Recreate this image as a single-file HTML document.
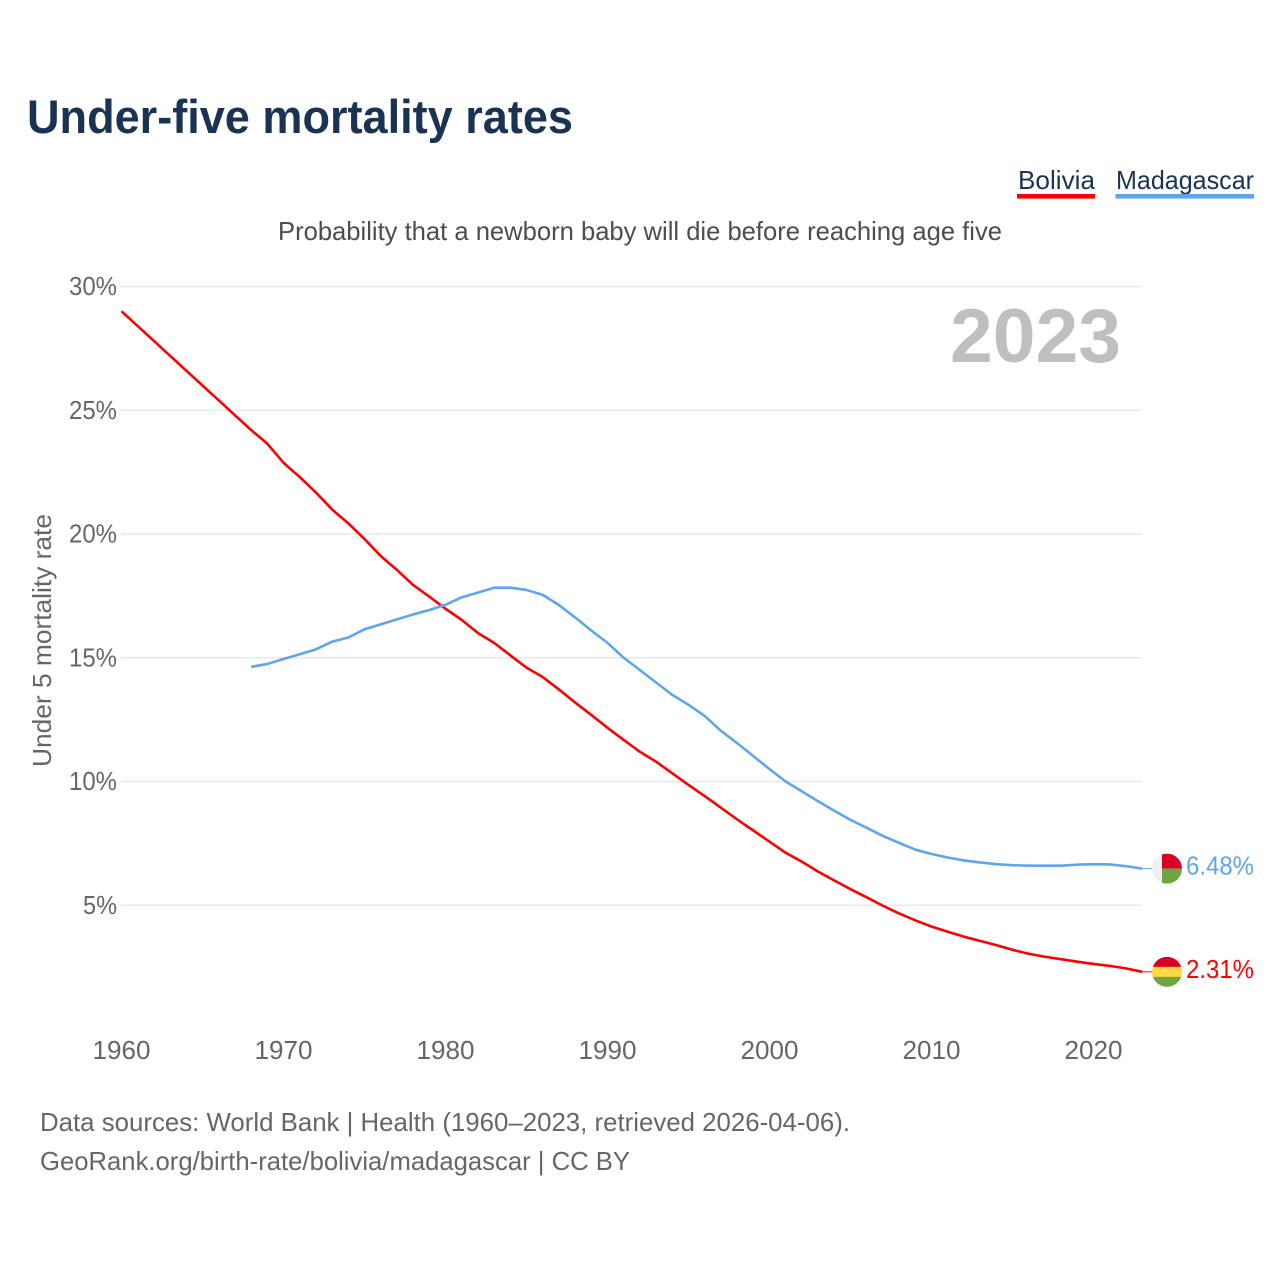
<!DOCTYPE html>
<html lang="en">
<head>
<meta charset="utf-8">
<title>Under-five mortality rates</title>
<style>
html,body{margin:0;padding:0;background:#fff;width:1280px;height:1280px;overflow:hidden}
svg{display:block;font-family:"Liberation Sans",sans-serif}
text{font-size:26px}
</style>
</head>
<body>
<svg id="chart" width="1280" height="1280" viewBox="0 0 1280 1280" xmlns="http://www.w3.org/2000/svg">
  <rect x="0" y="0" width="1280" height="1280" fill="#ffffff"/>
  <text x="27" y="133" style="font-size:47px;font-weight:700" fill="#1a3353" textLength="546" lengthAdjust="spacingAndGlyphs">Under-five mortality rates</text>

  <g>
    <g>
      <text x="1018" y="189" fill="#1a3353" textLength="77" lengthAdjust="spacingAndGlyphs">Bolivia</text>
      <rect x="1017" y="194" width="78" height="4.6" fill="#ff0000"/>
    </g>
    <g>
      <text x="1116" y="189" fill="#1a3353" textLength="138" lengthAdjust="spacingAndGlyphs">Madagascar</text>
      <rect x="1115.5" y="194" width="138.5" height="4.6" fill="#5fa5ec"/>
    </g>
  </g>

  <text x="278" y="240" fill="#4d4d4d" textLength="724" lengthAdjust="spacingAndGlyphs">Probability that a newborn baby will die before reaching age five</text>
  <text transform="translate(51 767) rotate(-90)" x="0" y="0" fill="#666666" textLength="253" lengthAdjust="spacingAndGlyphs">Under 5 mortality rate</text>
  <text x="950" y="362" style="font-size:76px;font-weight:700" fill="#bfbfbf" textLength="171" lengthAdjust="spacingAndGlyphs">2023</text>

  <g id="grid"></g>
  <g id="yAxis"></g>
  <g id="xAxis"></g>
  <g id="series"></g>
  <g id="ends"></g>

  <text x="40" y="1131" fill="#666666" textLength="810" lengthAdjust="spacingAndGlyphs">Data sources: World Bank | Health (1960–2023, retrieved 2026-04-06).</text>
  <text x="40" y="1170" fill="#666666" textLength="590" lengthAdjust="spacingAndGlyphs">GeoRank.org/birth-rate/bolivia/madagascar | CC BY</text>
</svg>

<script>
const yTicks = [5, 10, 15, 20, 25, 30];
const xTicks = [1960, 1970, 1980, 1990, 2000, 2010, 2020];

const boliviaStartYear = 1960;
const boliviaValues = [
  29.0, 28.4, 27.8, 27.2, 26.6, 26.0, 25.4, 24.8, 24.2, 23.65,
  22.88, 22.3, 21.68, 20.99, 20.43, 19.8, 19.11, 18.55, 17.94, 17.47,
  16.98, 16.53, 16.0, 15.6, 15.1, 14.6, 14.22, 13.72, 13.19, 12.69,
  12.17, 11.68, 11.2, 10.8, 10.33, 9.86, 9.41, 8.94, 8.47, 8.02,
  7.57, 7.12, 6.76, 6.36, 6.0, 5.65, 5.32, 4.98, 4.67, 4.39,
  4.14, 3.93, 3.73, 3.56, 3.39, 3.2, 3.04, 2.92, 2.82, 2.72,
  2.63, 2.55, 2.45, 2.31
];

const madagascarStartYear = 1968;
const madagascarValues = [
  14.63, 14.75, 14.95, 15.14, 15.34, 15.65, 15.82, 16.15, 16.35, 16.55,
  16.75, 16.93, 17.14, 17.44, 17.63, 17.83, 17.83, 17.74, 17.54, 17.13,
  16.63, 16.1, 15.6, 15.0, 14.5, 14.0, 13.5, 13.1, 12.65, 12.05,
  11.55, 11.03, 10.5, 10.0, 9.6, 9.2, 8.82, 8.45, 8.13, 7.8,
  7.52, 7.25, 7.07, 6.93, 6.81, 6.73, 6.66, 6.62, 6.6, 6.6,
  6.6, 6.64, 6.66, 6.65, 6.58, 6.48
];

const NS = 'http://www.w3.org/2000/svg';
const xScale = year => 121.5 + (year - 1960) * 16.2;
const yScale = value => 1029 - value * 24.75;
const byId = id => document.getElementById(id);

function make(tag, attrs, parent) {
  const el = document.createElementNS(NS, tag);
  for (const k in attrs) el.setAttribute(k, attrs[k]);
  parent.appendChild(el);
  return el;
}

yTicks.forEach(tick => {
  const line = make('line', {x1: 120.7, x2: 1142, y1: yScale(tick), y2: yScale(tick), stroke: '#e8e8e8', 'stroke-width': 1.4}, byId('grid'));
  
  
  const label = make('text', {x: 117, y: yScale(tick) + 8.5, 'text-anchor': 'end', fill: '#666666', textLength: String(tick).length * 14 + 20, lengthAdjust: 'spacingAndGlyphs'}, byId('yAxis'));
  
  
  label.textContent = tick + '%';
});

xTicks.forEach(tick => {
  const label = make('text', {x: xScale(tick), y: 1059, 'text-anchor': 'middle', fill: '#666666', textLength: 58, lengthAdjust: 'spacingAndGlyphs'}, byId('xAxis'));
  
  
  label.textContent = tick;
});

function points(startYear, values) {
  return values.map((v, i) => xScale(startYear + i).toFixed(2) + ',' + yScale(v).toFixed(2)).join(' ');
}

const boliviaLine = make('polyline', {points: points(boliviaStartYear, boliviaValues), fill: 'none', stroke: '#ff0000', 'stroke-width': 2.6, 'stroke-linejoin': 'round'}, byId('series'));



const madagascarLine = make('polyline', {points: points(madagascarStartYear, madagascarValues), fill: 'none', stroke: '#5fa5ec', 'stroke-width': 2.6, 'stroke-linejoin': 'round'}, byId('series'));



const flagR = 15;
const flagCx = 1167;

function clipFor(id, cy) {
  const defs = make('clipPath', {id: id}, byId('ends'));
  make('circle', {cx: flagCx, cy: cy, r: flagR}, defs);
}

/* Madagascar end marker */
const mLast = madagascarValues[madagascarValues.length - 1];
const mY = yScale(mLast);
clipFor('clipM', mY);
const mConn = make('line', {x1: 1142, x2: 1152, y1: mY, y2: mY, stroke: '#5fa5ec', 'stroke-width': 1}, byId('ends'));


const mFlag = make('g', {'clip-path': 'url(#clipM)'}, byId('ends'));


make('rect', {x: flagCx - flagR, y: mY - flagR, width: flagR, height: flagR * 2, fill: '#f0f0f0'}, mFlag);
make('rect', {x: flagCx - 5, y: mY - flagR, width: flagR + 5, height: flagR, fill: '#d80027'}, mFlag);
make('rect', {x: flagCx - 5, y: mY, width: flagR + 5, height: flagR, fill: '#6da544'}, mFlag);
const mLabel = make('text', {x: 1186, y: mY + 6, fill: '#5fa5ec', textLength: 68, lengthAdjust: 'spacingAndGlyphs'}, byId('ends'));


mLabel.textContent = mLast.toFixed(2) + '%';

/* Bolivia end marker */
const bLast = boliviaValues[boliviaValues.length - 1];
const bY = yScale(bLast);
clipFor('clipB', bY);
const bConn = make('line', {x1: 1142, x2: 1152, y1: bY, y2: bY, stroke: '#ff0000', 'stroke-width': 1}, byId('ends'));


const bFlag = make('g', {'clip-path': 'url(#clipB)'}, byId('ends'));


make('rect', {x: flagCx - flagR, y: bY - flagR, width: flagR * 2, height: flagR * 2, fill: '#ffda44'}, bFlag);
make('rect', {x: flagCx - flagR, y: bY - flagR, width: flagR * 2, height: 10, fill: '#d80027'}, bFlag);
make('rect', {x: flagCx - flagR, y: bY + 5, width: flagR * 2, height: 10, fill: '#6da544'}, bFlag);
const bLabel = make('text', {x: 1186, y: bY + 6, fill: '#ff0000', textLength: 68, lengthAdjust: 'spacingAndGlyphs'}, byId('ends'));


bLabel.textContent = bLast.toFixed(2) + '%';
</script>
</body>
</html>
